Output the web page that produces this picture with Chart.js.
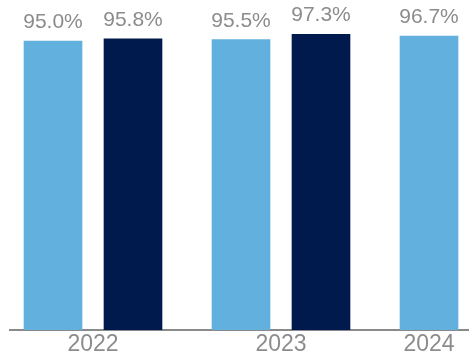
<!DOCTYPE html>
<html>
<head>
<meta charset="utf-8">
<script src="https://cdn.jsdelivr.net/npm/chart.js@4/dist/chart.umd.min.js"></script>
<style>
  html, body { margin: 0; padding: 0; background: #fff; }
  #wrap { width: 469px; height: 362px; }
</style>
</head>
<body>
<div id="wrap"><canvas id="myChart"></canvas></div>
<script>
var years = ["2022", "2023", "2024"];
var lightValues = [95.0, 95.5, 96.7];
var darkValues = [95.8, 97.3];

// slot of each year on the x axis (pairs of bars, 2024 has one)
var groupStart = [0, 2.35, 4.7];
var groupCenter = [0.5, 2.85, 4.7];

function toPoints(values, shift) {
  return values.map(function (v, i) {
    return { x: groupStart[i] + shift, y: v };
  });
}

var valueLabels = {
  id: 'valueLabels',
  afterDatasetsDraw: function (chart) {
    var ctx = chart.ctx;
    ctx.save();
    ctx.font = '21px "Liberation Sans", Arial, sans-serif';
    ctx.fillStyle = '#8c8c8c';
    ctx.textAlign = 'center';
    ctx.textBaseline = 'alphabetic';
    chart.data.datasets.forEach(function (ds, di) {
      chart.getDatasetMeta(di).data.forEach(function (bar, i) {
        ctx.fillText(ds.data[i].y.toFixed(1) + '%', bar.x, bar.y - 13);
      });
    });
    ctx.restore();
  }
};

var ctx = document.getElementById("myChart").getContext('2d');
var myChart = new Chart(ctx, {
  type: 'bar',
  data: {
    datasets: [{
      data: toPoints(lightValues, 0),
      backgroundColor: '#62b0de'
    }, {
      data: toPoints(darkValues, 1),
      backgroundColor: '#001a4e'
    }]
  },
  options: {
    responsive: true,
    maintainAspectRatio: false,
    animation: false,
    layout: { padding: { top: 26, left: 10, right: 0, bottom: 0 } },
    datasets: { bar: { barThickness: 58, grouped: false } },
    plugins: { legend: { display: false }, tooltip: { enabled: false } },
    scales: {
      x: {
        type: 'linear',
        offset: false,
        min: -0.5375,
        max: 5.2,
        grid: { display: false, drawTicks: false },
        border: { display: true, color: '#8a8a8a', width: 2 },
        afterBuildTicks: function (scale) {
          scale.ticks = groupCenter.map(function (v) { return { value: v }; });
        },
        afterFit: function (scale) { scale.height = 32; },
        ticks: {
          autoSkip: false,
          maxRotation: 0,
          padding: 1,
          color: '#8c8c8c',
          font: { family: '"Liberation Sans", Arial, sans-serif', size: 23 },
          callback: function (value, index) { return years[index]; }
        }
      },
      y: {
        display: false,
        min: 0,
        max: 100
      }
    }
  },
  plugins: [valueLabels]
});
</script>
</body>
</html>
